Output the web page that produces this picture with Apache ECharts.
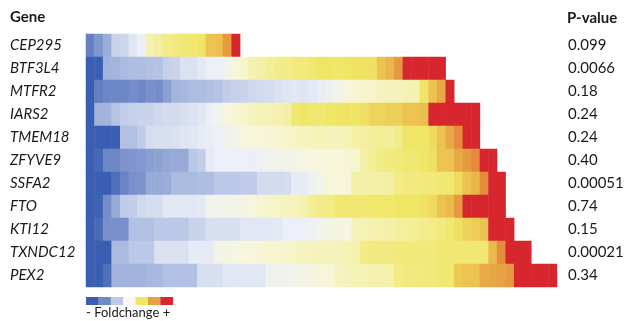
<!DOCTYPE html>
<html>
<head>
<meta charset="utf-8">
<script src="https://cdn.jsdelivr.net/npm/echarts@6/dist/echarts.min.js"></script>
<style>
  html, body { margin: 0; padding: 0; background: #fff; }
  #chart { width: 626px; height: 321px; }
</style>
</head>
<body>
<div id="chart"></div>
<script>
const genes = ["CEP295", "BTF3L4", "MTFR2", "IARS2", "TMEM18", "ZFYVE9", "SSFA2", "FTO", "KTI12", "TXNDC12", "PEX2"]
const pValues = ["0.099", "0.0066", "0.18", "0.24", "0.24", "0.40", "0.00051", "0.74", "0.15", "0.00021", "0.34"]

// foldchange level per column, 0 = strongest down (dark blue), 12 = strongest up (red)
const cep295 = [0.8, 1.5, 2.3, 3.7, 3.8, 4.6, 5, 6.8, 7.1, 7.5, 7.6, 7.8, 7.8, 8, 9, 9.1, 10, 12]
const btf3l4 = [0, 0, 2.5, 2.6, 2.8, 2.9, 2.9, 3, 3.1, 3.6, 3.7, 4.3, 4.3, 4.7, 5, 5, 5.4, 6, 6.3, 6.8,
  7, 7.2, 7.4, 7.5, 7.6, 7.7, 7.8, 8, 8, 7.9, 8, 8.1, 8.1, 8.2, 9, 9.3, 10, 12, 12, 12, 12, 12]
const mtfr2 = [0, 0.8, 1, 1, 1, 1.2, 1, 1.3, 1.2, 1.8, 2.6, 2.7, 2.9, 2.9, 3, 3.1, 3.5, 3.6, 3.7, 3.9,
  4, 4.1, 4.3, 4.5, 4.6, 4.5, 4.7, 4.9, 5.2, 5.5, 6, 6.1, 6.3, 6.3, 6.5, 6.6, 6.6, 6.7, 6.8, 8, 9, 9.6, 12]
const iars2 = [0, 2.5, 2.6, 3.1, 3.5, 3.6, 3.7, 3.7, 3.9, 4, 4, 4.2, 4.4, 4.6, 5, 5.4, 5.9, 6.1, 6.3, 6.5,
  6.7, 6.7, 6.8, 7, 7.8, 8, 7.9, 7.8, 8, 8, 8.1, 8, 8.2, 8.5, 8.5, 8.6, 8.6, 9, 9, 9.1, 12, 12, 12, 12, 12, 12]
const tmem18 = [0, 0, 0, 0, 3, 3, 3.4, 4.1, 4.2, 4.2, 4.3, 4.5, 4.6, 4.8, 4.9, 5, 5.3, 5.6, 5.8, 6,
  6, 6.1, 6.2, 6.3, 6.4, 6.5, 6.6, 6.7, 6.6, 6.6, 6.7, 7, 7.1, 7.2, 7.3, 7.2, 7.4, 8, 8, 8, 8.3, 9, 9.6, 10.3, 12, 12]
const zfyve9 = [0, 0.2, 1, 1, 1.4, 1.5, 1.6, 1.8, 1.9, 2.1, 2.2, 2.2, 3.3, 3.5, 4.8, 5, 5, 5, 5, 5,
  5.1, 5.4, 5.4, 5.5, 5.5, 5.8, 5.8, 5.9, 6, 6, 6.1, 6.2, 7, 7.3, 7.5, 7.6, 7.7, 7.8, 7.8, 8,
  8.2, 9, 9, 9.6, 10, 10.4, 12, 12]
const ssfa2 = [0, 0, 0, 0.4, 0.9, 1.3, 1.4, 2.2, 2.2, 2.3, 2.8, 2.8, 2.8, 2.9, 2.9, 3.3, 3.3, 3.3, 3.4, 3.4,
  4, 4, 4, 4.1, 4.8, 4.8, 5.3, 5.5, 6, 6, 6, 7, 7, 7, 7, 7.1, 7.5, 7.6, 7.6, 7.7,
  7.7, 7.8, 7.8, 8.3, 9, 9.3, 10.3, 12, 12]
const fto = [0, 0.1, 1.2, 2.2, 3.4, 3.5, 3.9, 4.1, 4.1, 4.6, 4.6, 4.6, 4.6, 4.7, 5.4, 5.5, 5.5, 5.6, 5.6, 5.8,
  6.2, 6.3, 6.4, 6.5, 6.6, 6.8, 7.3, 7.5, 7.5, 7.8, 7.8, 7.8, 7.8, 7.9, 7.9, 7.9, 8, 8, 8, 8.1,
  8.3, 9, 9.2, 10, 12, 12, 12, 12, 12]
const kti12 = [0, 0.3, 1.3, 1.3, 1.3, 3, 3, 3, 3.3, 3.3, 3.3, 3.3, 3.7, 3.7, 4.2, 4.2, 4.2, 4.2, 4.6, 4.6,
  4.6, 4.6, 4.7, 5, 5, 5, 5.1, 5.5, 5.7, 5.7, 5.8, 6.6, 6.7, 6.8, 6.9, 7, 7.1, 7.2, 7.3, 7.4,
  7.5, 7.6, 7.8, 8.2, 8.5, 8.7, 9, 12, 12, 12]
const txndc12 = [0, 0, 0, 2.8, 2.8, 3.3, 3.3, 3.3, 4.3, 4.3, 4.3, 4.3, 4.8, 4.8, 4.8, 5.6, 5.7, 5.8, 5.9, 6,
  6.1, 6.2, 6.2, 6.3, 6.4, 6.5, 6.6, 6.6, 6.6, 6.6, 6.7, 6.8, 7.5, 7.6, 7.6, 7.6, 7.7, 7.7, 7.7, 7.7,
  7.7, 7.8, 7.8, 7.8, 7.8, 7.8, 7.8, 9.2, 10.3, 12, 12, 12]
const pex2 = [0, 0, 0.4, 2.5, 2.5, 2.5, 2.5, 2.7, 2.7, 3, 3, 3, 3, 4.2, 4.2, 4.2, 4.6, 4.6, 4.6, 4.6,
  4.6, 5.3, 5.3, 5.4, 5.5, 5.6, 5.7, 6, 6, 6.5, 6.6, 6.7, 6.7, 6.8, 6.8, 6.9, 7.5, 7.6, 7.6, 7.7,
  7.7, 7.8, 7.8, 8.8, 9, 9, 9.6, 9.7, 9.8, 10, 12, 12, 12, 12, 12]

const geneRows = [cep295, btf3l4, mtfr2, iars2, tmem18, zfyve9, ssfa2, fto, kti12, txndc12, pex2]
const columnCount = 55

const levelColors = ["#3A5FB2", "#6E87C6", "#91A5D5", "#B1C0E3", "#D3DBEF", "#ECEFF7", "#F7F6DA",
  "#F4F0A6", "#F0E666", "#ECC250", "#E69A40", "#E07038", "#D8262F"]
const legendSwatches = ["#3A5FB2", "#7089C7", "#BCC9E8", "#FAFAF0", "#F0E660", "#E8A040", "#D8262F"]

const font = "Lato, 'Liberation Sans', sans-serif"

const cells = []
geneRows.forEach((row, y) => {
  row.forEach((v, x) => cells.push([x, y, v]))
})

const chart = echarts.init(document.getElementById("chart"))

const swatchW = 12.4
const legendGraphics = legendSwatches.map((c, i) => ({
  type: "rect",
  left: 86 + i * swatchW,
  top: 297,
  shape: { width: swatchW + 0.3, height: 8 },
  style: { fill: c }
}))

chart.setOption({
  animation: false,
  grid: { left: 86, top: 34, width: 471, height: 253, outerBoundsMode: "none" },
  xAxis: {
    type: "category",
    data: Array.from({ length: columnCount }, (_, i) => String(i)),
    show: false
  },
  yAxis: [
    {
      type: "category",
      data: genes,
      inverse: true,
      axisLine: { show: false },
      axisTick: { show: false },
      splitLine: { show: false },
      axisLabel: {
        align: "left",
        margin: 76,
        fontStyle: "italic",
        fontSize: 15,
        color: "#1a1a1a",
        fontFamily: font
      }
    },
    {
      type: "category",
      data: pValues,
      inverse: true,
      position: "right",
      axisLine: { show: false },
      axisTick: { show: false },
      splitLine: { show: false },
      axisLabel: {
        align: "left",
        margin: 11,
        fontSize: 15,
        color: "#1a1a1a",
        fontFamily: font
      }
    }
  ],
  visualMap: {
    show: false,
    type: "continuous",
    min: 0,
    max: 12,
    dimension: 2,
    seriesIndex: 0,
    inRange: { color: levelColors }
  },
  series: [{
    type: "heatmap",
    data: cells,
    xAxisIndex: 0,
    yAxisIndex: 0,
    emphasis: { disabled: true },
    itemStyle: { borderWidth: 0 }
  }],
  graphic: [
    {
      type: "text",
      left: 10,
      top: 10,
      style: { text: "Gene", font: "bold 15px " + font, fill: "#1a1a1a" }
    },
    {
      type: "text",
      left: 567,
      top: 37 - 26,
      style: { text: "P-value", font: "bold 15px " + font, fill: "#1a1a1a" }
    },
    ...legendGraphics,
    {
      type: "text",
      left: 86,
      top: 306,
      style: { text: "- Foldchange +", font: "13px " + font, fill: "#1a1a1a" }
    }
  ]
})
</script>
</body>
</html>
